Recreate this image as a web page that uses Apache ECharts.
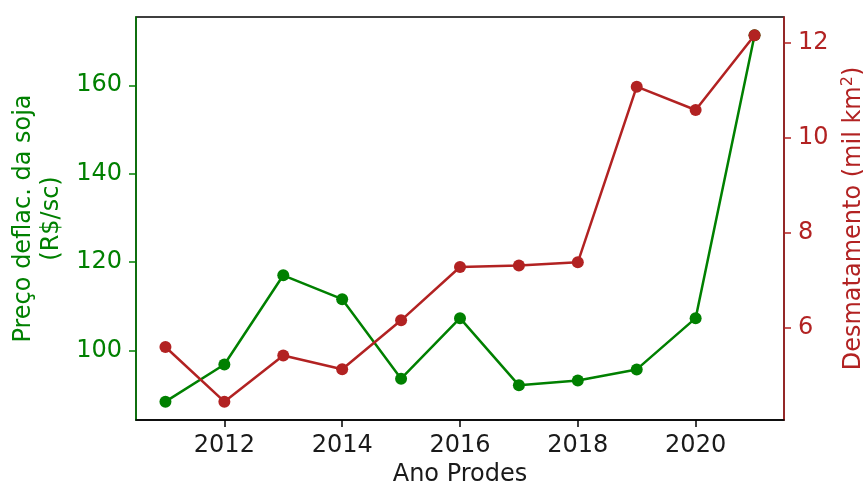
<!DOCTYPE html>
<html>
<head>
<meta charset="utf-8">
<script src="https://cdn.jsdelivr.net/npm/echarts@6/dist/echarts.min.js"></script>
<style>
  html, body { margin: 0; padding: 0; background: #fff; }
  #chart { width: 863px; height: 484px; }
</style>
</head>
<body>
<div id="chart"></div>
<script>
// Soy price (deflated) vs. PRODES deforestation, 2011-2021
const years = [2011, 2012, 2013, 2014, 2015, 2016, 2017, 2018, 2019, 2020, 2021];
const sojaPreco = [88.4, 96.8, 117.0, 111.6, 93.6, 107.3, 92.1, 93.2, 95.7, 107.3, 171.3];
const desmatamento = [5.60, 4.45, 5.42, 5.13, 6.16, 7.28, 7.31, 7.38, 11.07, 10.58, 12.15];
const xTicks = [2012, 2014, 2016, 2018, 2020];
const leftTicks = [100, 120, 140, 160];
const rightTicks = [6, 8, 10, 12];

const GREEN = '#008000';
const RED = '#b22222';
const FONT = 'DejaVu Sans';

// 5% padding on each side of the data range
function padded(arr) {
  const lo = Math.min(...arr), hi = Math.max(...arr);
  const m = (hi - lo) * 0.05;
  return [lo - m, hi + m];
}
const xr = [years[0] - 0.5, years[years.length - 1] + 0.5];
const lr = padded(sojaPreco);
const rr = padded(desmatamento);

const chart = echarts.init(document.getElementById('chart'), null, { renderer: 'canvas' });
chart.setOption({
  animation: false,
  backgroundColor: '#fff',
  grid: {
    left: 136, right: 79, top: 17, bottom: 64,
    outerBoundsMode: 'none', containLabel: false,
    show: true, borderColor: '#000', borderWidth: 1.5, backgroundColor: 'transparent'
  },
  xAxis: {
    type: 'value', min: xr[0], max: xr[1],
    name: 'Ano Prodes', nameLocation: 'middle', nameGap: 41,
    nameTextStyle: { fontFamily: FONT, fontSize: 24, color: '#1a1a1a' },
    axisLine: { show: true, lineStyle: { color: '#000', width: 1.5 } },
    axisTick: { show: true, length: 7, lineStyle: { color: '#000', width: 1.5 }, customValues: xTicks },
    axisLabel: { fontFamily: FONT, fontSize: 24, color: '#1a1a1a', margin: 14, customValues: xTicks, formatter: v => String(v) },
    splitLine: { show: false }
  },
  yAxis: [
    {
      type: 'value', position: 'left', min: lr[0], max: lr[1],
      name: 'Preço deflac. da soja\n(R$/sc)', nameLocation: 'middle', nameGap: 68, nameRotate: 90,
      nameTextStyle: { fontFamily: FONT, fontSize: 24, color: GREEN, lineHeight: 28, align: 'center' },
      axisLine: { show: true, lineStyle: { color: GREEN, width: 1.5 } },
      axisTick: { show: true, length: 7, lineStyle: { color: GREEN, width: 1.5 }, customValues: leftTicks },
      axisLabel: { fontFamily: FONT, fontSize: 24, color: GREEN, margin: 14, customValues: leftTicks },
      splitLine: { show: false }
    },
    {
      type: 'value', position: 'right', min: rr[0], max: rr[1],
      name: 'Desmatamento (mil km{sup|2})', nameLocation: 'middle', nameGap: 50, nameRotate: 90,
      nameTextStyle: {
        fontFamily: FONT, fontSize: 24, color: RED,
        rich: { sup: { fontFamily: FONT, fontSize: 16, color: RED, verticalAlign: 'top', lineHeight: 28 } }
      },
      axisLine: { show: true, lineStyle: { color: RED, width: 1.5 } },
      axisTick: { show: true, length: 7, lineStyle: { color: RED, width: 1.5 }, customValues: rightTicks },
      axisLabel: { fontFamily: FONT, fontSize: 24, color: RED, margin: 14, customValues: rightTicks },
      splitLine: { show: false }
    }
  ],
  series: [
    {
      type: 'line', yAxisIndex: 0, z: 2,
      data: years.map((y, i) => [y, sojaPreco[i]]),
      symbol: 'circle', symbolSize: 12, showAllSymbol: true,
      lineStyle: { color: GREEN, width: 2.5 },
      itemStyle: { color: GREEN },
      clip: false
    },
    {
      type: 'line', yAxisIndex: 1, z: 3,
      data: years.map((y, i) => [y, desmatamento[i]]),
      symbol: 'circle', symbolSize: 12, showAllSymbol: true,
      lineStyle: { color: RED, width: 2.5 },
      itemStyle: { color: RED },
      clip: false
    }
  ]
});
</script>
</body>
</html>
